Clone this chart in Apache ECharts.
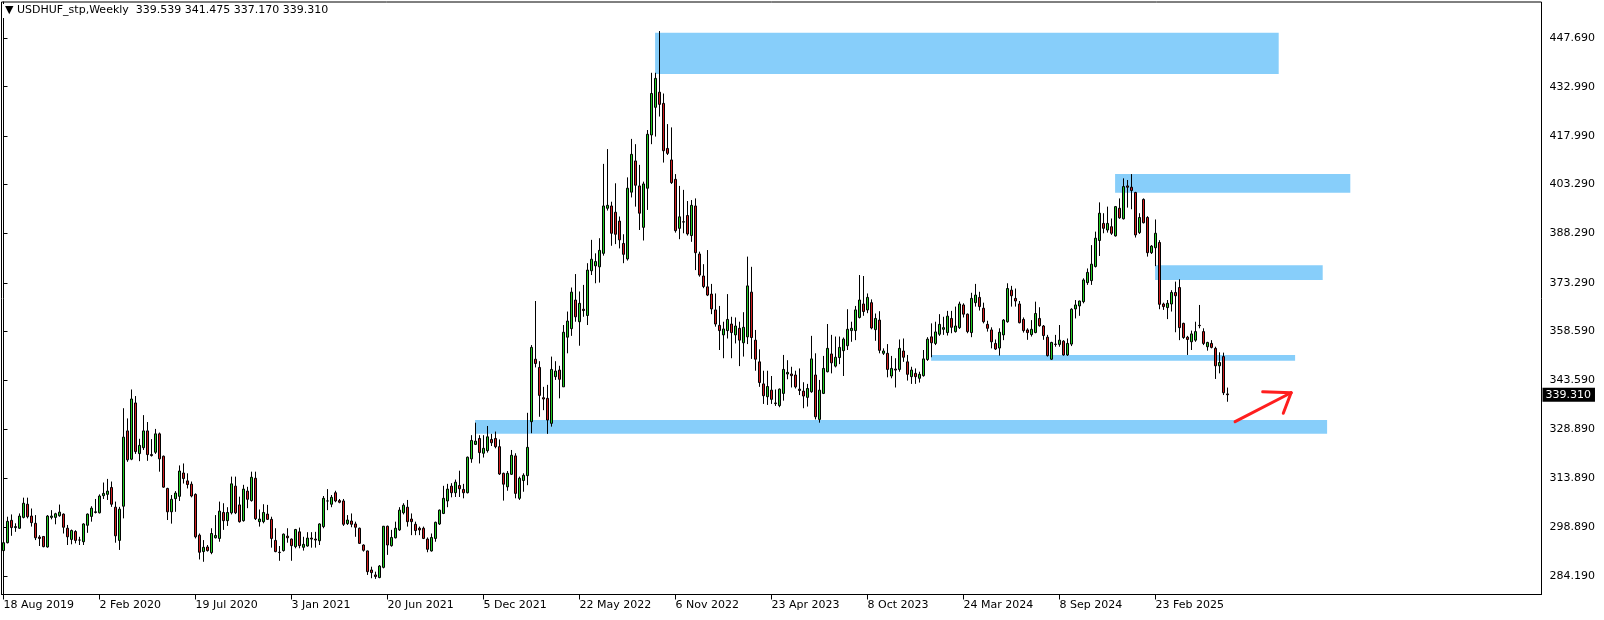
<!DOCTYPE html>
<html>
<head>
<meta charset="utf-8">
<script src="https://cdn.jsdelivr.net/npm/echarts@6/dist/echarts.min.js"></script>
<style>
html,body{margin:0;padding:0;background:#fff;}
#chart{width:1604px;height:620px;}
</style>
</head>
<body>
<div id="chart"></div>
<script>
const symbolName = 'USDHUF_stp,Weekly';
const startDate = '2019-08-18';
const totalSlots = 385;

const opens = [291.9,294.3,301.1,298.9,298.7,302.0,306.0,302.4,300.2,296.0,296.2,293.0,302.0,302.0,302.5,303.0,298.7,295.3,297.7,295.1,
294.6,299.6,302.3,303.5,303.4,308.6,309.0,311.1,305.1,295.0,305.4,328.3,319.7,336.8,321.4,323.2,328.3,321.1,321.8,327.4,
320.6,310.8,303.7,307.7,308.4,315.5,313.1,312.1,309.0,296.6,291.6,293.0,291.3,295.8,295.6,303.5,301.0,303.4,311.5,305.8,
301.0,310.0,307.1,313.9,300.7,300.7,303.0,301.4,295.0,291.4,291.9,296.3,295.4,293.1,297.6,292.9,293.3,295.7,295.4,294.9,
299.2,307.0,306.0,309.5,307.1,307.0,300.1,300.9,300.0,298.7,293.6,291.8,286.0,284.5,283.7,286.8,299.3,293.4,295.8,298.2,
303.4,305.1,301.5,299.9,298.7,298.7,295.4,291.8,295.6,300.0,303.2,307.0,311.5,309.5,311.7,310.5,309.5,319.8,324.2,326.0,
321.5,322.3,325.7,326.0,323.5,315.4,311.3,315.1,320.7,307.8,313.2,314.7,331.1,350.1,347.6,338.4,338.2,330.6,344.8,346.8,
341.7,356.8,359.4,368.1,361.5,365.3,363.4,377.0,378.5,378.2,382.3,396.0,396.7,394.8,392.1,385.3,380.6,400.9,410.4,402.8,
390.2,402.1,418.3,426.7,431.3,427.9,414.2,410.7,404.8,389.9,391.9,393.8,387.7,396.7,382.1,375.4,372.1,369.9,365.1,360.4,
357.5,358.8,360.8,357.5,359.5,355.1,356.9,370.5,355.9,349.3,342.6,338.7,340.7,336.8,336.0,339.7,345.6,345.6,345.3,341.0,
340.4,338.5,340.2,345.3,331.8,339.7,346.3,351.7,348.0,350.6,352.7,354.2,358.8,358.8,362.8,366.9,365.1,367.3,359.1,362.0,
351.9,351.9,345.0,347.1,347.0,352.6,349.3,344.8,345.8,344.3,345.1,350.0,356.9,354.9,357.7,359.2,358.2,362.5,358.5,359.7,
366.6,363.8,358.2,367.3,368.9,365.6,360.7,359.0,354.9,353.5,357.5,361.5,371.1,368.6,366.9,362.2,359.0,357.6,358.2,362.5,
360.2,356.8,350.1,354.7,354.6,355.6,351.4,354.7,365.4,366.3,367.6,373.4,374.0,378.3,386.2,391.4,389.4,390.4,387.6,396.0,
392.8,402.8,402.4,400.8,388.6,398.7,393.2,382.5,384.0,385.6,366.9,365.8,366.9,370.4,371.9,361.0,356.8,355.4,355.9,360.4,
358.5,353.9,354.9,353.4,348.1,350.9,339.539];

const highs = [297.1,302.2,302.9,300.2,303.2,308.0,308.0,304.7,302.7,296.6,296.2,302.7,304.2,303.4,305.9,303.2,299.7,298.3,298.1,296.1,
300.2,303.2,305.4,307.6,309.0,312.6,313.7,312.9,306.8,305.2,335.2,332.1,340.9,338.9,325.9,333.1,331.0,325.8,328.9,327.8,
320.8,311.0,308.8,310.0,317.8,318.4,315.4,312.9,309.3,297.1,295.1,293.6,298.7,302.7,306.8,306.3,305.1,314.4,314.4,308.3,
311.9,311.3,315.9,315.9,304.4,306.0,305.8,302.2,298.7,293.3,297.1,298.7,295.6,298.5,298.9,296.1,297.5,297.5,297.6,300.2,
308.5,310.6,308.8,310.1,307.6,307.6,302.7,303.2,300.7,298.9,293.8,291.9,287.0,285.5,287.5,299.4,299.5,298.2,300.7,305.1,
306.3,307.3,303.2,300.7,299.2,299.2,295.9,297.1,300.7,304.4,311.6,312.2,312.4,313.5,316.2,312.2,320.5,327.0,330.8,327.0,
327.0,329.8,327.4,328.1,325.7,315.6,316.1,322.5,321.5,314.4,315.4,333.8,354.4,367.8,349.5,341.7,342.3,350.9,349.5,348.1,
360.5,364.6,371.9,376.0,370.7,372.7,379.3,386.4,382.3,386.9,409.5,414.0,398.0,403.6,393.5,388.1,405.4,417.1,415.5,409.2,
404.1,419.8,437.2,437.2,449.9,430.9,421.6,420.6,406.4,402.8,401.6,398.2,398.5,399.0,382.8,379.0,383.3,373.0,370.1,366.3,
361.5,369.9,363.0,362.8,361.5,364.4,381.3,378.2,359.0,353.1,346.6,346.6,345.0,340.9,341.2,351.4,349.8,347.8,346.6,347.3,
343.1,342.6,357.2,351.9,343.8,351.1,360.8,357.5,357.0,357.0,356.7,365.3,361.5,366.3,375.7,375.4,370.1,368.3,364.0,364.7,
353.4,354.7,351.1,350.4,356.1,356.4,351.4,347.8,347.3,346.3,352.9,356.8,361.0,361.5,363.8,363.0,364.8,364.8,366.1,367.6,
367.1,364.0,370.3,373.0,370.6,367.3,361.8,359.8,356.1,359.5,362.3,373.2,372.4,371.6,367.8,362.8,359.5,362.0,367.6,365.9,
360.5,357.5,355.4,357.5,360.5,355.9,356.4,365.6,368.1,367.9,374.7,377.7,384.8,388.9,397.8,394.5,396.5,392.9,396.7,399.0,
405.1,404.6,406.4,401.0,394.5,399.0,393.6,384.8,392.6,386.3,367.3,368.1,371.1,373.7,374.4,361.2,357.2,358.8,361.5,366.6,
359.5,355.4,355.9,353.9,352.2,352.1,341.475];

const lows = [291.6,294.1,296.4,297.6,298.5,301.7,301.7,299.2,295.1,293.3,292.9,292.8,301.4,299.9,302.2,297.1,293.6,293.8,294.1,293.6,
293.6,297.3,300.7,303.2,303.2,307.6,307.3,305.2,294.3,292.1,301.7,318.9,319.4,321.3,319.1,322.5,319.2,320.5,321.3,315.9,
311.0,301.2,300.1,303.7,307.0,312.3,310.8,308.1,295.6,289.2,288.5,291.6,290.8,295.6,294.6,298.2,299.4,302.9,303.0,300.4,
300.7,304.8,306.8,301.2,299.2,300.2,301.2,292.8,291.4,288.8,291.6,294.3,288.8,292.6,292.6,291.9,293.1,292.8,292.8,293.6,
298.7,304.2,305.1,306.6,306.3,299.4,299.7,299.0,296.1,293.9,291.6,284.5,283.5,283.3,283.5,286.5,290.6,293.1,295.6,297.9,
302.9,299.2,296.6,296.6,296.6,295.4,291.4,291.6,294.6,299.7,303.0,305.1,308.1,308.2,308.2,307.8,309.3,318.6,324.0,318.4,
320.2,321.7,323.7,323.0,314.9,307.1,310.1,314.9,307.8,307.3,309.8,311.8,327.6,347.6,332.6,334.6,327.4,329.6,343.8,338.2,
341.7,351.9,357.2,361.5,354.2,363.0,360.5,375.7,373.2,373.4,381.6,395.3,384.6,385.1,383.8,379.3,380.1,399.3,396.5,389.4,
386.2,395.5,415.5,417.8,423.9,409.9,412.2,403.4,388.6,386.6,388.4,387.7,385.8,377.2,375.2,371.7,369.3,363.8,360.0,352.9,
350.4,356.4,350.4,354.9,348.0,350.9,354.7,350.2,346.6,341.7,336.5,336.2,336.5,335.9,335.5,337.5,344.0,341.5,341.2,339.2,
335.2,335.7,339.9,331.8,330.8,339.5,346.1,345.8,347.6,348.6,345.0,352.9,355.4,355.9,362.5,363.3,364.1,359.2,355.7,351.9,
351.4,344.6,344.3,341.5,346.3,349.3,343.6,342.6,342.6,343.0,344.8,349.6,350.7,354.4,357.2,357.5,357.3,358.0,358.2,359.3,
362.8,358.0,356.8,366.1,364.9,361.0,358.5,353.4,352.9,351.2,355.9,361.2,366.1,366.1,361.0,358.2,356.0,357.0,358.0,360.0,
356.0,350.9,349.9,353.9,353.9,351.2,351.1,354.1,362.5,363.3,367.1,372.7,372.7,378.0,381.5,388.4,388.6,387.9,387.4,392.8,
392.6,396.2,395.7,387.1,388.2,391.4,381.3,382.1,378.4,365.3,365.1,362.3,364.6,358.3,355.9,356.3,351.4,352.9,355.4,359.5,
354.4,352.7,353.4,344.1,345.8,339.2,337.170];

const closes = [294.3,300.8,298.9,299.2,302.4,306.3,302.2,300.4,295.8,295.6,293.1,302.4,302.4,303.1,303.6,299.0,296.1,298.0,295.0,295.1,
300.0,303.0,304.8,303.7,308.5,309.3,310.0,306.0,296.4,304.5,326.4,319.5,338.0,322.0,323.9,328.3,321.1,320.8,327.4,319.8,
311.2,303.7,307.5,309.4,316.1,313.8,312.0,308.5,296.1,291.4,292.9,291.9,297.1,296.5,303.9,301.0,303.5,312.2,303.4,300.7,
310.6,307.5,314.2,301.6,301.5,303.5,301.4,295.6,291.6,291.3,296.9,295.8,293.4,298.3,293.4,293.8,295.7,295.4,295.1,300.0,
307.8,307.0,308.1,307.0,306.6,299.9,301.2,299.9,299.0,294.1,292.0,285.5,285.2,284.0,287.2,299.3,293.6,295.9,298.7,304.2,
305.7,300.7,300.7,298.0,298.2,295.6,292.3,295.9,300.5,304.2,307.8,310.6,309.5,312.7,310.7,309.5,320.3,325.4,325.2,321.7,
323.0,326.5,324.7,323.5,315.2,312.1,315.4,320.9,309.3,313.9,314.8,323.3,353.7,348.8,339.1,338.0,331.6,347.0,346.5,344.0,
358.3,361.7,370.5,363.0,367.1,364.9,377.2,380.5,379.8,383.2,396.7,396.9,388.4,388.1,386.4,382.0,402.1,412.4,403.0,394.5,
403.4,418.5,430.9,435.5,427.6,413.5,412.7,403.8,389.2,393.4,391.8,388.2,396.9,382.5,375.7,372.2,369.6,365.4,360.8,358.8,
359.3,362.2,358.2,360.2,355.9,359.8,372.4,356.7,350.1,343.0,339.0,341.8,337.9,336.6,341.0,347.0,346.1,345.1,341.7,340.6,
338.9,341.2,350.2,332.6,340.7,347.3,353.4,349.0,350.7,353.7,356.2,359.2,359.5,365.1,368.1,364.6,368.9,359.6,362.5,352.8,
352.6,347.0,347.3,346.8,353.4,350.7,345.5,346.8,344.8,345.5,350.2,356.2,355.1,358.4,360.7,359.7,363.2,359.8,360.2,366.9,
363.8,358.5,368.6,369.6,366.1,361.5,359.5,355.4,353.2,358.3,362.0,371.6,369.4,367.8,361.2,358.8,358.2,359.2,364.0,360.3,
357.3,351.2,355.2,354.6,355.9,351.4,354.9,365.3,366.6,367.8,374.2,376.5,379.0,386.9,394.5,389.9,391.4,388.4,396.5,393.1,
402.6,402.4,401.4,387.9,393.2,391.6,382.5,384.5,388.4,366.8,366.1,367.1,370.4,369.4,359.7,356.7,356.1,357.8,358.5,360.3,
354.9,355.2,353.7,348.1,349.1,339.9,339.310];

const yTickLabels = [284.19, 298.89, 313.89, 328.89, 343.59, 358.59, 373.29, 388.29, 403.29, 417.99, 432.99, 447.69];

// zones: [fromIndex, toIndex, topPrice, bottomPrice]
const zones = [
  [162.9, 318.8, 449.4, 436.8],
  [277.9, 336.7, 406.4, 400.7],
  [287.9, 329.8, 378.7, 374.2],
  [231.9, 322.9, 351.4, 349.6],
  [117.9, 330.9, 331.6, 327.4]
];
// arrow segments: [fromIndex, fromPrice, toIndex, toPrice]
const arrowSegments = [
  [307.9, 331.1, 321.9, 339.9],
  [314.8, 340.2, 321.9, 339.9],
  [321.9, 339.9, 319.95, 333.65]
];

const MONTHS = ['Jan','Feb','Mar','Apr','May','Jun','Jul','Aug','Sep','Oct','Nov','Dec'];
const t0 = Date.parse(startDate + 'T00:00:00Z');
const categories = [];
for (let i = 0; i < totalSlots; i++) {
  const d = new Date(t0 + i * 7 * 86400000);
  categories.push(d.getUTCDate() + ' ' + MONTHS[d.getUTCMonth()] + ' ' + d.getUTCFullYear());
}
const nData = closes.length;
const candleData = opens.map((o, i) => [o, closes[i], lows[i], highs[i]]);
const last = nData - 1;
const headerText = '▼ ' + symbolName + '  ' + opens[last].toFixed(3) + ' ' + highs[last].toFixed(3) + ' ' + lows[last].toFixed(3) + ' ' + closes[last].toFixed(3);

const FONT = 'DejaVu Sans';
const showLabel = (idx) => idx % 24 === 0 && idx < nData;

const chart = echarts.init(document.getElementById('chart'), null, {renderer: 'canvas'});
chart.setOption({
  animation: false,
  backgroundColor: '#fff',
  title: {
    text: headerText, left: 3, top: 4, padding: [1, 2, 2, 2],
    backgroundColor: '#fff',
    textStyle: {fontSize: 11, fontWeight: 'normal', fontFamily: FONT, color: '#000'}
  },
  grid: {left: 1.5, right: 62.5, top: 2, bottom: 25.5, show: true, borderColor: '#000', borderWidth: 1, backgroundColor: 'transparent'},
  xAxis: [{
    type: 'category', data: categories, boundaryGap: true,
    axisLine: {show: true, lineStyle: {color: '#000', width: 1}},
    axisTick: {show: true, alignWithLabel: true, interval: showLabel, length: 5, lineStyle: {color: '#000'}},
    axisLabel: {interval: showLabel, align: 'left', margin: 5, color: '#000', fontFamily: FONT, fontSize: 11},
    splitLine: {show: false}
  }, {
    type: 'value', min: -0.5, max: totalSlots - 0.5, show: false
  }],
  yAxis: {
    type: 'value', position: 'right', min: 278.55, max: 458.73, scale: true,
    axisLine: {show: true, lineStyle: {color: '#000', width: 1}},
    axisTick: {show: true, length: 4, customValues: yTickLabels, lineStyle: {color: '#000'}},
    axisLabel: {customValues: yTickLabels, formatter: v => v.toFixed(3), margin: 8, color: '#000', fontFamily: FONT, fontSize: 11},
    splitLine: {show: false}
  },
  series: [{
    type: 'custom', xAxisIndex: 1, z: 1, silent: true,
    data: zones,
    renderItem: (params, api) => {
      const a = api.coord([api.value(0), api.value(2)]);
      const b = api.coord([api.value(1), api.value(3)]);
      return {type: 'rect', shape: {x: a[0], y: a[1], width: b[0] - a[0], height: b[1] - a[1]}, style: {fill: '#87cefa'}};
    }
  }, {
    type: 'candlestick', xAxisIndex: 0, z: 3,
    data: candleData, barWidth: 2,
    itemStyle: {color: '#22cc22', color0: '#d01e1e', borderColor: '#000', borderColor0: '#000', borderWidth: 1},
    markLine: {
      silent: true, symbol: 'none', animation: false,
      lineStyle: {color: 'rgba(0,0,0,0)', width: 0},
      label: {show: true, position: 'end', distance: 1, formatter: p => Number(p.value).toFixed(3),
        backgroundColor: '#000', color: '#fff', fontFamily: FONT, fontSize: 11, padding: [2, 4, 1, 3]},
      data: [{yAxis: closes[last]}]
    }
  }, {
    type: 'custom', xAxisIndex: 1, z: 5, silent: true,
    data: arrowSegments,
    renderItem: (params, api) => {
      const a = api.coord([api.value(0), api.value(1)]);
      const b = api.coord([api.value(2), api.value(3)]);
      return {type: 'line', shape: {x1: a[0], y1: a[1], x2: b[0], y2: b[1]}, style: {stroke: '#ff1e1e', lineWidth: 3, lineCap: 'round'}};
    }
  }]
});
</script>
</body>
</html>
